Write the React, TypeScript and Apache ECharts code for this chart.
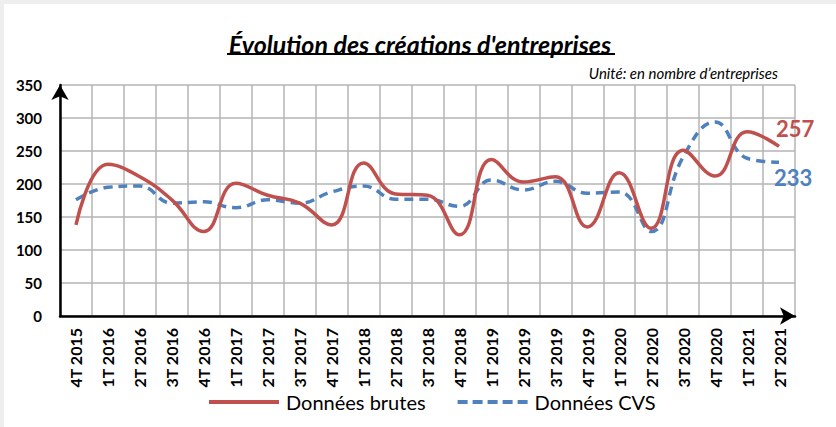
import React, { useEffect, useRef } from "react";
import * as echarts from "echarts";

const categories = [
  "4T 2015", "1T 2016", "2T 2016", "3T 2016", "4T 2016", "1T 2017", "2T 2017", "3T 2017",
  "4T 2017", "1T 2018", "2T 2018", "3T 2018", "4T 2018", "1T 2019", "2T 2019", "3T 2019",
  "4T 2019", "1T 2020", "2T 2020", "3T 2020", "4T 2020", "1T 2021", "2T 2021",
];

const brutes = [138, 230, 211, 176, 128, 201, 183, 171, 138, 232, 185, 183, 123, 237, 203, 211, 135, 217, 133, 251, 212, 279, 257];
const cvs = [176, 195, 197, 171, 173, 164, 176, 171, 188, 197, 177, 177, 166, 206, 191, 204, 186, 188, 128, 241, 294, 239, 233];

const yTicks = [0, 50, 100, 150, 200, 250, 300, 350];

const FONT = "Lato";

const RED_ICON = "path://M0,0h70v4h-70z";
const BLUE_ICON = "path://M0,0h10v4h-10z M15,0h10v4h-10z M30,0h10v4h-10z M45,0h10v4h-10z M60,0h10v4h-10z";

export default function App() {
  const ref = useRef<HTMLDivElement>(null);
  useEffect(() => {
    if (!ref.current) return;
    const chart = echarts.init(ref.current, undefined, { renderer: "svg" });
    chart.setOption({
      animation: false,
      backgroundColor: "#ffffff",
      title: {
        text: "Évolution des créations d'entreprises",
        left: "center",
        top: 22,
        textStyle: { fontFamily: FONT, fontSize: 25, fontWeight: "bold", fontStyle: "italic", color: "#000" },
      },
      graphic: [
        { type: "line", shape: { x1: 223, y1: 50, x2: 611, y2: 50 }, style: { stroke: "#000", lineWidth: 2 } },
        {
          type: "text",
          x: 774,
          y: 69,
          style: {
            text: "Unité: en nombre d’entreprises",
            textAlign: "right",
            textVerticalAlign: "middle",
            fontFamily: FONT,
            fontStyle: "italic",
            fontWeight: "normal",
            fontSize: 15,
            fill: "#000",
          },
        },
      ],
      legend: {
        bottom: 10,
        left: 200,
        itemWidth: 70,
        itemHeight: 4,
        itemGap: 32,
        textStyle: { fontFamily: FONT, fontSize: 20, color: "#000", padding: [0, 0, 0, 2] },
        data: [
          { name: "Données brutes", icon: RED_ICON },
          { name: "Données CVS", icon: BLUE_ICON },
        ],
      },
      grid: { left: 56, top: 81, right: 41, bottom: 111, containLabel: false },
      xAxis: {
        type: "category",
        data: categories,
        boundaryGap: true,
        axisLine: {
          show: true,
          lineStyle: { color: "#000", width: 2.5 },
          symbol: ["none", "arrow"],
          symbolSize: [13, 15],
        },
        axisTick: { show: false },
        splitLine: { show: true, interval: 0, lineStyle: { color: "#b4b4b4", width: 1.5 } },
        axisLabel: {
          interval: 0,
          rotate: 90,
          margin: 12,
          fontFamily: FONT,
          fontWeight: "bold",
          fontSize: 16,
          color: "#000",
        },
      },
      yAxis: {
        type: "value",
        min: 0,
        max: 350,
        interval: 50,
        axisLine: {
          show: true,
          lineStyle: { color: "#000", width: 2.5 },
          symbol: ["none", "arrow"],
          symbolSize: [13, 15],
        },
        axisTick: { show: false },
        splitLine: { show: true, lineStyle: { color: "#b4b4b4", width: 1.5 } },
        axisLabel: {
          margin: 18,
          fontFamily: FONT,
          fontWeight: "bold",
          fontSize: 15,
          color: "#000",
          formatter: (v: number) => (yTicks.includes(v) ? String(v) : ""),
        },
      },
      series: [
        {
          name: "Données brutes",
          type: "line",
          data: brutes,
          smooth: 0.45,
          symbol: "none",
          color: "#c0504d",
          lineStyle: { color: "#c0504d", width: 3.5 },
          endLabel: {
            show: true,
            formatter: "{c}",
            offset: [-11, -18],
            fontFamily: FONT,
            fontWeight: "bold",
            fontSize: 22,
            color: "#c0504d",
          },
          z: 3,
        },
        {
          name: "Données CVS",
          type: "line",
          data: cvs,
          smooth: 0.45,
          symbol: "none",
          color: "#4f81bd",
          lineStyle: { color: "#4f81bd", width: 3.5, type: [9, 6] },
          endLabel: {
            show: true,
            formatter: "{c}",
            offset: [-13, 15],
            fontFamily: FONT,
            fontWeight: "bold",
            fontSize: 22,
            color: "#4f81bd",
          },
          z: 2,
        },
      ],
    });
    return () => chart.dispose();
  }, []);

  return (
    <div style={{ position: "fixed", left: 0, top: 0, width: 836, height: 427, background: "#eeeeee" }}>
      <div ref={ref} style={{ position: "absolute", left: 4, top: 4, width: 832, height: 423, background: "#fff" }} />
    </div>
  );
}
